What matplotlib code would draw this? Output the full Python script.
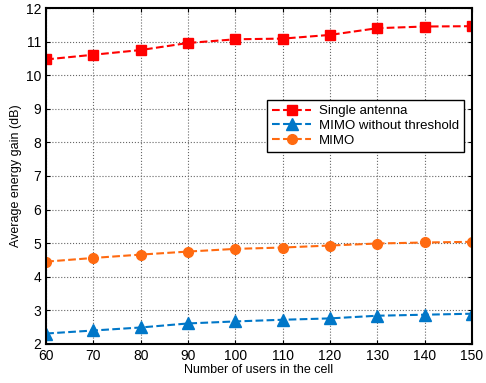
import matplotlib
matplotlib.use("Agg")
import matplotlib.pyplot as plt

users = [60, 70, 80, 90, 100, 110, 120, 130, 140, 150]
single_antenna = [10.47, 10.61, 10.75, 10.96, 11.07, 11.09, 11.20, 11.40, 11.45, 11.46]
mimo_no_threshold = [2.31, 2.40, 2.49, 2.61, 2.67, 2.72, 2.76, 2.84, 2.87, 2.90]
mimo = [4.45, 4.56, 4.66, 4.75, 4.83, 4.87, 4.93, 4.99, 5.02, 5.04]

plt.rcParams['font.family'] = ['Liberation Sans', 'DejaVu Sans']

fig = plt.figure(figsize=(4.86, 3.83), dpi=100)
ax = fig.add_axes([0.095, 0.102, 0.876, 0.877])

ax.plot(users, single_antenna, '--s', color='#ff0000', lw=1.5, ms=7, label='Single antenna')
ax.plot(users, mimo_no_threshold, '--^', color='#0077c8', lw=1.5, ms=8, label='MIMO without threshold')
ax.plot(users, mimo, '--o', color='#ff6a10', lw=1.5, ms=7, label='MIMO')

ax.set_xlim(60, 150)
ax.set_ylim(2, 12)
ax.set_xticks(users)
ax.set_yticks(range(2, 13))
ax.tick_params(direction='in', labelsize=10, length=3, top=True, right=True)
ax.grid(True, color='#666666', linestyle=':', linewidth=0.8)
for s in ax.spines.values():
    s.set_linewidth(1.5)

ax.set_xlabel('Number of users in the cell', fontsize=9, labelpad=1)
ax.set_ylabel('Average energy gain (dB)', fontsize=9, labelpad=3)

leg = ax.legend(loc='upper right', bbox_to_anchor=(0.997, 0.745), fontsize=9.5,
                fancybox=False, framealpha=1, edgecolor='black', handlelength=3,
                borderpad=0.35, labelspacing=0.2, handletextpad=0.6)
leg.get_frame().set_linewidth(1.0)

fig.savefig('out.png', dpi=100)
